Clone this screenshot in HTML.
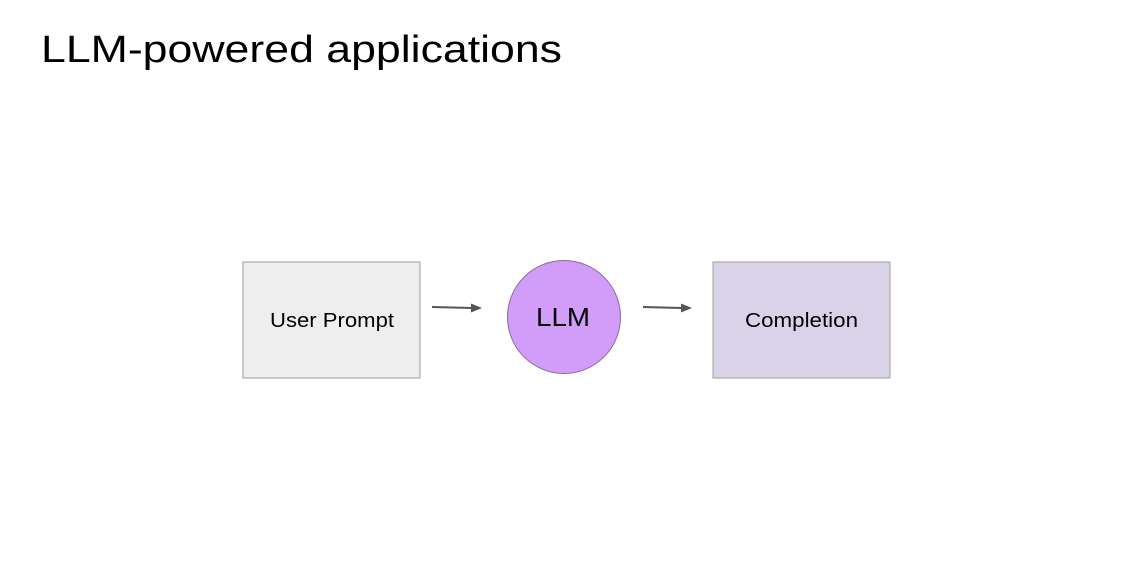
<!DOCTYPE html>
<html><head><style>
html,body{margin:0;padding:0;background:#fff;width:1127px;height:562px;overflow:hidden;font-family:"Liberation Sans",sans-serif;}
</style></head><body>
<svg width="1127" height="562" xmlns="http://www.w3.org/2000/svg" font-family="Liberation Sans, sans-serif">
<text x="41" y="62" font-size="38" fill="#000" textLength="521" lengthAdjust="spacingAndGlyphs">LLM-powered applications</text>
<rect x="243" y="262" width="177" height="116" fill="#eeeeee" stroke="#9e9e9e" stroke-width="1"/>
<text x="270" y="327" font-size="20" fill="#000" textLength="124" lengthAdjust="spacingAndGlyphs">User Prompt</text>
<circle cx="564" cy="317" r="56.5" fill="#d29cf9" stroke="#8a6a9e" stroke-width="1"/>
<text x="536" y="326" font-size="26" fill="#000" textLength="54" lengthAdjust="spacingAndGlyphs">LLM</text>
<rect x="713" y="262" width="177" height="116" fill="#d9d2e9" stroke="#9e9e9e" stroke-width="1"/>
<text x="745" y="327" font-size="20" fill="#000" textLength="113" lengthAdjust="spacingAndGlyphs">Completion</text>
<line x1="432" y1="307" x2="472" y2="308" stroke="#555" stroke-width="2"/>
<polygon points="482,308 471,303.5 471,312.5" fill="#555"/>
<line x1="643" y1="307" x2="682" y2="308" stroke="#555" stroke-width="2"/>
<polygon points="692,308 681,303.5 681,312.5" fill="#555"/>
</svg>
</body></html>
